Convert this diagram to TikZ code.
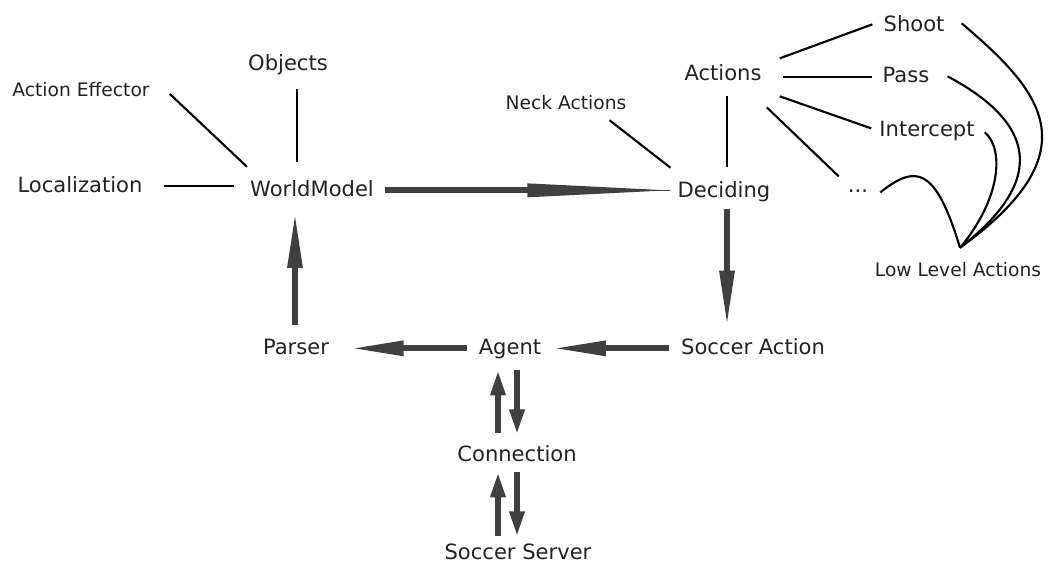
\documentclass[tikz,border=0pt]{standalone}
\usepackage{fontspec}
\setmainfont{DejaVu Sans}
\usetikzlibrary{arrows.meta}
\definecolor{flowgray}{HTML}{404040}
\definecolor{inkgray}{HTML}{222222}

\begin{document}
\begin{tikzpicture}[x=0.75pt, y=-0.75pt,
  lbl/.style={font=\fontsize{15.8}{19}\selectfont, text=inkgray, inner sep=0pt,
    anchor=base, text height=12pt, text depth=3.5pt},
  sublbl/.style={lbl, font=\fontsize{14}{17}\selectfont,
    text height=10.5pt, text depth=3pt},
  link/.style={line width=1.6pt, draw=black},
  flow/.style={line width=4.5pt, draw=flowgray,
    -{Triangle[length=#1, width=10.5pt]}},
  flow/.default=40pt]
\useasboundingbox (0,0) rectangle (1055,562);
% ---------------- world model side ----------------
\node[sublbl] (effector) at (81,96) {Action Effector};
\node[lbl] (objects) at (288,70) {Objects};
\node[lbl] (loc) at (80,192) {Localization};
\node[lbl] (wm) at (312,196) {WorldModel};
\draw[link] ([shift={(21,0)}]loc.east) -- ([shift={(-16,-4)}]wm.west);
\draw[link] ([shift={(20,3)}]effector.east) -- ([shift={(-3,-13)}]wm.north west);
\draw[link] ([shift={(9,14)}]objects.south) -- ([shift={(-15,-18)}]wm.north);
% ---------------- deciding side ----------------
\node[sublbl] (neck) at (566,109) {Neck Actions};
\node[lbl] (actions) at (723,80) {Actions};
\node[lbl] (deciding) at (724,197) {Deciding};
\node[lbl] (shoot) at (914,31) {Shoot};
\node[lbl] (pass) at (906,82) {Pass};
\node[lbl] (intercept) at (927,136) {Intercept};
\node[lbl] (dots) at (858,192) {...};
\node[sublbl] (lowlevel) at (958,276) {Low Level Actions};
\coordinate (merge) at ([shift={(2,-14)}]lowlevel.north);
\draw[link] ([shift={(-17,7)}]neck.south east) -- ([shift={(-7,-13)}]deciding.north west);
\draw[link] ([shift={(4,11)}]actions.south) -- ([shift={(3,-14)}]deciding.north);
\draw[link] ([shift={(18,-16)}]actions.east) -- ([shift={(-11,-1)}]shoot.west);
\draw[link] ([shift={(21,3)}]actions.east) -- ([shift={(-10,1)}]pass.west);
\draw[link] ([shift={(18,22)}]actions.east) -- ([shift={(-8,-2)}]intercept.west);
\draw[link] ([shift={(5,33)}]actions.east) -- ([shift={(-9,-10)}]dots.west);
% low level actions
\draw[link] ([shift={(17,-2)}]shoot.east) .. controls (1040,90) and (1095,150) .. (merge);
\draw[link] ([shift={(18,0)}]pass.east) .. controls (1020,115) and (1060,170) .. (merge);
\draw[link] ([shift={(10,2)}]intercept.east) .. controls (1005,150) and (1000,200) .. (merge);
\draw[link] ([shift={(12,6)}]dots.east) .. controls (915,165) and (935,165) .. (merge);
% ---------------- agent loop ----------------
\node[lbl] (parser) at (296,354) {Parser};
\node[lbl] (agent) at (510,354) {Agent};
\node[lbl] (socaction) at (753,354) {Soccer Action};
\node[lbl] (conn) at (517,461) {Connection};
\node[lbl] (server) at (518,559) {Soccer Server};
% long tapered head into Deciding
\draw[line width=0.8pt, flowgray] ([shift={(11,0)}]wm.east) -- ([shift={(-7,-1)}]deciding.west);
\draw[line width=4.5pt, flowgray] ([shift={(11,0)}]wm.east) -- ([shift={(-148,-1)}]deciding.west);
\fill[flowgray] ([shift={(-150,-8)}]deciding.west) -- ([shift={(-10,-1)}]deciding.west)
  -- ([shift={(-150,6)}]deciding.west) -- cycle;
\draw[flow=42pt] ([shift={(3,7)}]deciding.south) -- ([shift={(-26,-11)}]socaction.north);
\draw[flow] ([shift={(-12,0)}]socaction.west) -- ([shift={(11,0)}]agent.east);
\draw[flow] ([shift={(-12,0)}]agent.west) -- ([shift={(21,0)}]parser.east);
\draw[flow=42pt] ([shift={(-1,-13)}]parser.north) -- ([shift={(-17,11)}]wm.south);
% connection to the server, both ways
\draw[flow=19pt] ([shift={(-19,-12)}]conn.north) -- ([shift={(-12,11)}]agent.south);
\draw[flow=19pt] ([shift={(7,11)}]agent.south) -- ([shift={(0,-10)}]conn.north);
\draw[flow=19pt] ([shift={(-20,-7)}]server.north) -- ([shift={(-19,6)}]conn.south);
\draw[flow=19pt] ([shift={(0,6)}]conn.south) -- ([shift={(-1,-6)}]server.north);
\end{tikzpicture}
\end{document}
